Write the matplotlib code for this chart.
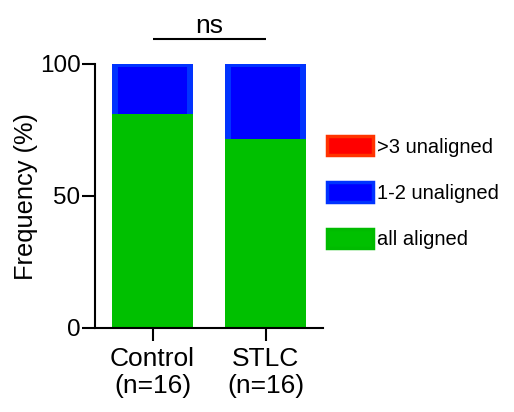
import matplotlib.pyplot as plt

plt.rcParams['font.family'] = ['Liberation Sans', 'DejaVu Sans']

# data (%)
groups = ['Control\n(n=16)', 'STLC\n(n=16)']
series_names = ['>3 unaligned', '1-2 unaligned', 'all aligned']
all_aligned = [81.25, 71.5]
one_two = [18.75, 28.5]
over_three = [0, 0]

def main():
    fig = plt.figure(figsize=(5.14, 4.12), dpi=100)
    ax = fig.add_axes([95 / 514, 1 - 328 / 412, (322.7 - 95) / 514, (328 - 64) / 412])

    x = list(range(len(groups)))
    w = 0.665
    lw = 4.3

    # stacked bars: top layers first, green drawn last without stroke
    tot = [a + b + c for a, b, c in zip(all_aligned, one_two, over_three)]
    mid = [a + b for a, b in zip(all_aligned, one_two)]
    red = ax.bar(x, tot, width=w, color='#ff0000', edgecolor='#ff3300', linewidth=lw)
    blue = ax.bar(x, mid, width=w, color='#0000ff', edgecolor='#0033ff', linewidth=lw)
    green = ax.bar(x, all_aligned, width=0.717, color='#00c000', edgecolor='#00bb00', linewidth=0)

    ax.set_xlim(-0.509, 1.506)
    ax.set_ylim(0, 100)
    ax.set_yticks([0, 50, 100])
    ax.set_xticks(x)
    ax.set_xticklabels(groups, fontsize=19, linespacing=1.15)
    ax.tick_params(axis='y', labelsize=17.5, length=9.5, width=1.5, pad=1)
    ax.tick_params(axis='x', length=9.5, width=1.5, pad=4)
    ax.set_ylabel('Frequency (%)', fontsize=18.3, labelpad=1)
    for s in ['top', 'right']:
        ax.spines[s].set_visible(False)
    for s in ['left', 'bottom']:
        ax.spines[s].set_linewidth(1.5)

    # significance bar
    ax.plot([0, 1], [109.5, 109.5], color='black', lw=1.5, clip_on=False, solid_capstyle='butt')
    ax.text(0.5, 111.6, 'ns', ha='center', va='baseline', fontsize=19)

    leg = ax.legend([red[0], blue[0], green[0]], series_names, frameon=False,
                    loc='upper left', bbox_to_anchor=(319 / 514, 1 - 128 / 412),
                    bbox_transform=fig.transFigure, fontsize=14.5,
                    handlelength=2.3, handleheight=1.1, labelspacing=1.28,
                    handletextpad=0.2, borderaxespad=0)
    for h in leg.legend_handles:
        h.set_linewidth(2.5)

    fig.savefig('out.png', dpi=100)

if __name__ == "__main__":
    main()
